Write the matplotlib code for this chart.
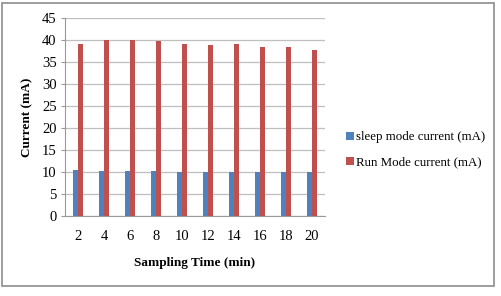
import numpy as np
import matplotlib
matplotlib.use("Agg")
import matplotlib.pyplot as plt
from matplotlib.patches import Rectangle

plt.rcParams['font.family'] = ['Liberation Serif', 'DejaVu Serif']

# donnees
temps = ['2', '4', '6', '8', '10', '12', '14', '16', '18', '20']
sleep_mode = [10.45, 10.2, 10.2, 10.25, 10.1, 10.1, 10.1, 10.05, 10.05, 10.05]
run_mode = [39.0, 40.1, 39.9, 39.8, 39.1, 38.8, 39.1, 38.4, 38.3, 37.8]

fig = plt.figure(figsize=(5.01, 2.96), dpi=100)
ax = fig.add_axes([65 / 501, 80 / 296, 260 / 501, 198 / 296])

x = np.arange(len(temps))
w = 0.2
ax.bar(x - w / 2, sleep_mode, w, color='#4F81BD', label='sleep mode current (mA)', zorder=3)
ax.bar(x + w / 2, run_mode, w, color='#C0504D', label='Run Mode current (mA)', zorder=3)

ax.set_xlim(-0.5, len(temps) - 0.5)
ax.set_ylim(0, 45)
ax.set_yticks(np.arange(0, 46, 5))
ax.set_xticks(x)
ax.set_xticklabels(temps)
ax.yaxis.grid(True, color='#BFBFBF', linewidth=0.9, zorder=0)

for s in ['top', 'right']:
    ax.spines[s].set_visible(False)
for s in ['left', 'bottom']:
    ax.spines[s].set_color('#999999')
    ax.spines[s].set_linewidth(0.8)

ax.tick_params(axis='y', length=3, color='#999999', labelsize=10.5, pad=3)
ax.tick_params(axis='x', length=0, labelsize=10.5, pad=10)

ax.set_xlabel('Sampling Time (min)', fontsize=9.5, fontweight='bold', labelpad=10)
ax.set_ylabel('Current (mA)', fontsize=9.5, fontweight='bold', labelpad=6)

fig.legend(loc='upper left', bbox_to_anchor=(340 / 501, 1 - 125 / 296), frameon=False,
           fontsize=9.3, handlelength=0.55, handleheight=0.55, handletextpad=0.2,
           labelspacing=1.0, borderpad=0)

# cadre du graphique
fig.patches.append(Rectangle((2 / 501, 10 / 296), 492 / 501, 283 / 296, transform=fig.transFigure,
                             fill=False, edgecolor='#8C8C8C', linewidth=1.2))

fig.savefig('out.png', dpi=100)
